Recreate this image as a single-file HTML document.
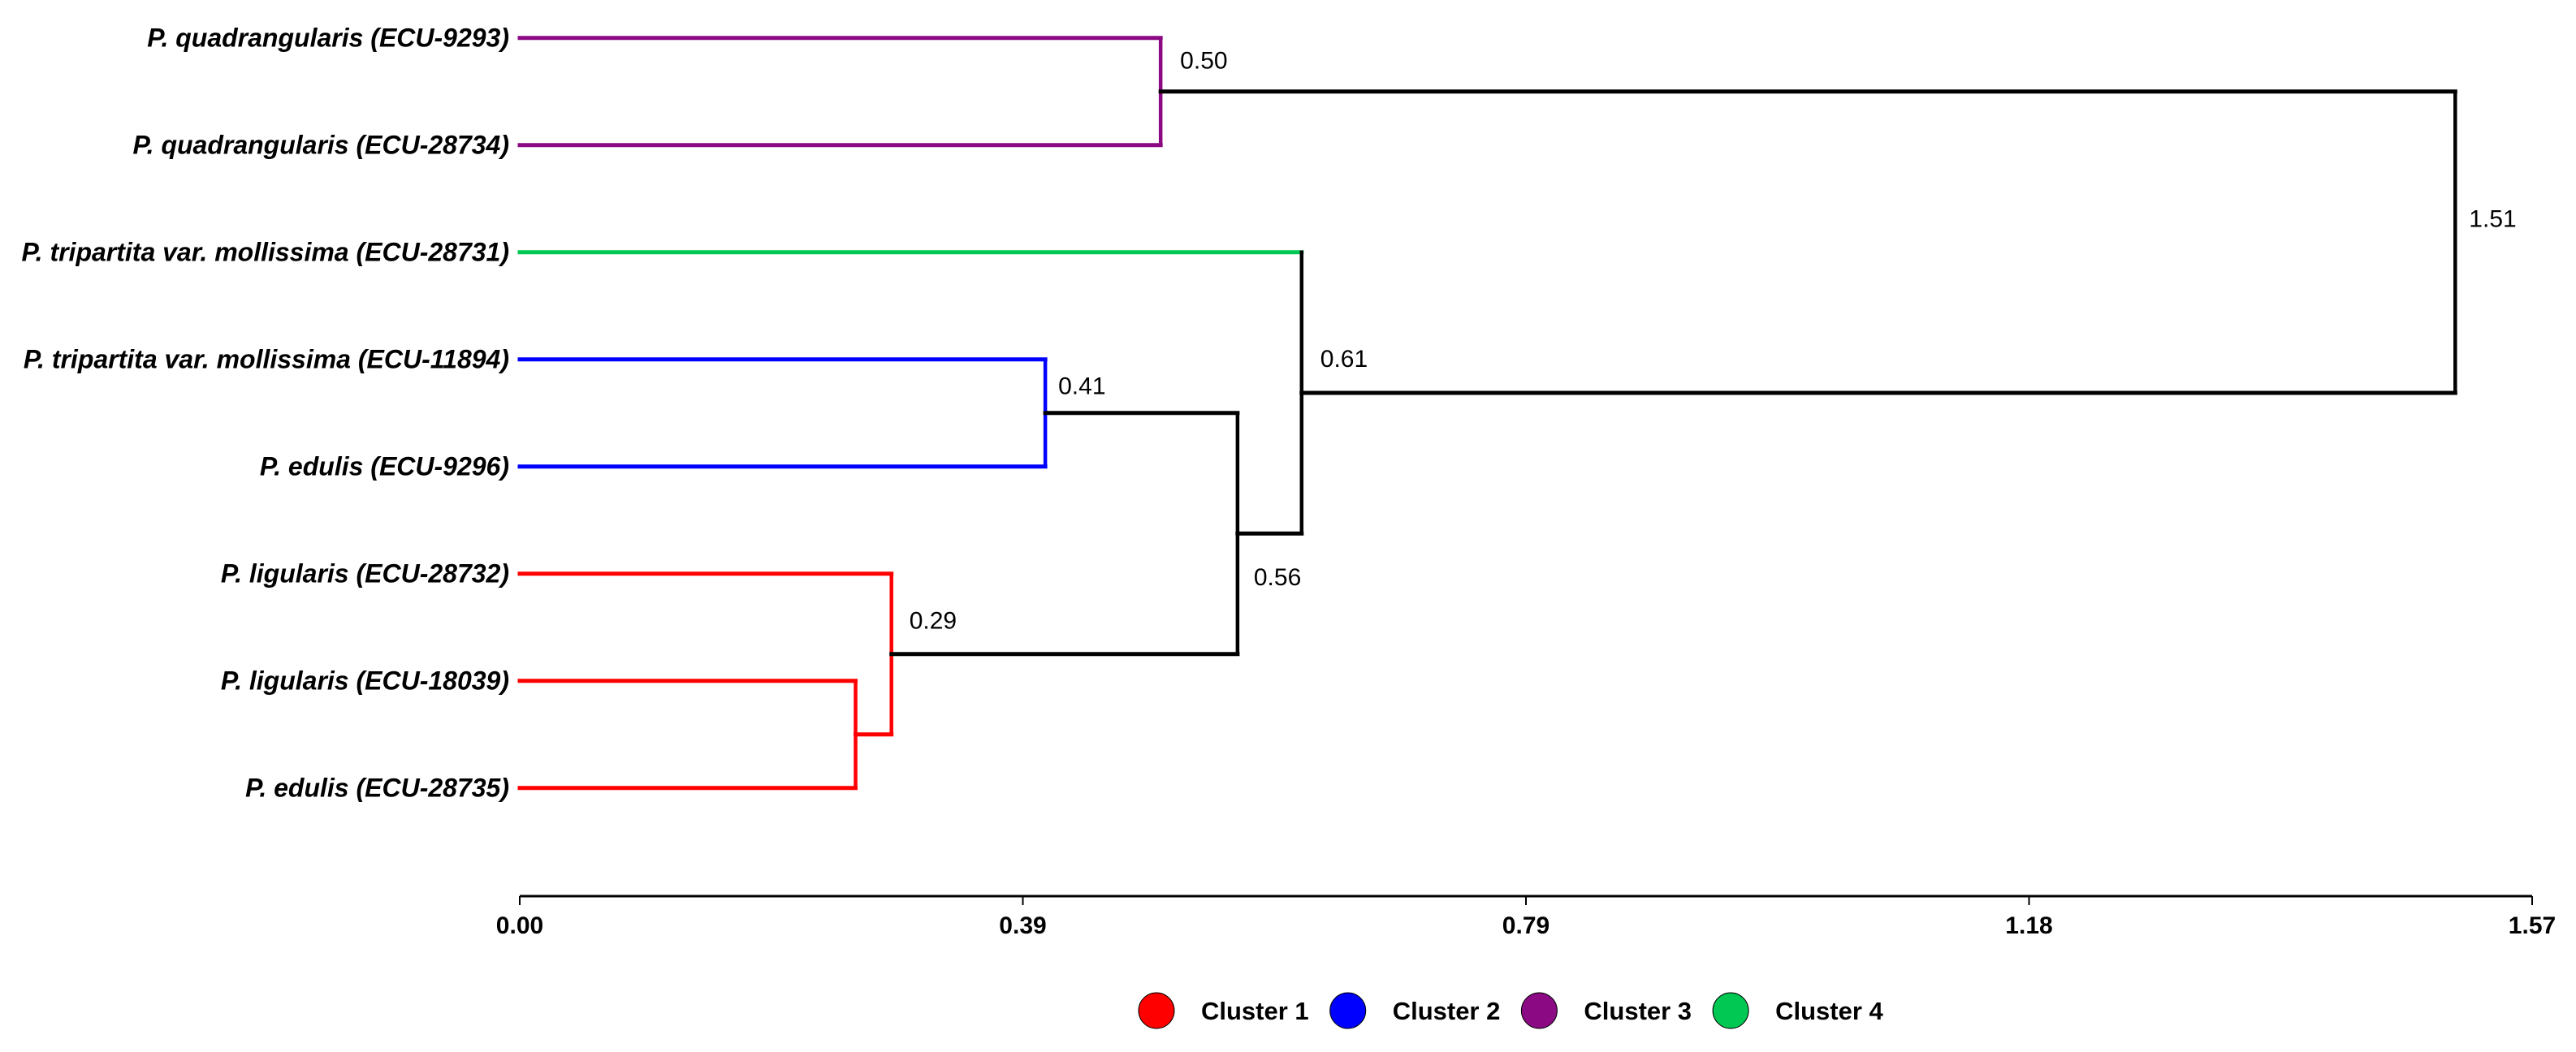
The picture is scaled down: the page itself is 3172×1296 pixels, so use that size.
<!DOCTYPE html>
<html>
<head>
<meta charset="utf-8">
<style>
html,body{margin:0;padding:0;background:#fff;}
svg{display:block;}
</style>
</head>
<body>
<svg id="chart" width="3172" height="1296" viewBox="0 0 3172 1296" xmlns="http://www.w3.org/2000/svg">
  <g id="branches"></g>
  <g id="leaf-labels"></g>
  <g id="height-labels"></g>
  <g id="axis"></g>
  <g id="legend"></g>
</svg>
<script>
// ---- data ----
const leafNames = [
  "P. quadrangularis (ECU-9293)",
  "P. quadrangularis (ECU-28734)",
  "P. tripartita var. mollissima (ECU-28731)",
  "P. tripartita var. mollissima (ECU-11894)",
  "P. edulis (ECU-9296)",
  "P. ligularis (ECU-28732)",
  "P. ligularis (ECU-18039)",
  "P. edulis (ECU-28735)"
];
const leafCluster = [3, 3, 4, 2, 2, 1, 1, 1];
const mergeLeft  = ["L6", "L5", "L3", "L0", "M2", "L2", "M3"];
const mergeRight = ["L7", "M0", "L4", "L1", "M1", "M4", "M5"];
const mergeHeight = [0.262, 0.29, 0.41, 0.50, 0.56, 0.61, 1.51];
const mergeLabel  = ["", "0.29", "0.41", "0.50", "0.56", "0.61", "1.51"];
const mergeCluster = [1, 1, 2, 3, 0, 0, 0];
const tickValues = [0, 0.3925, 0.785, 1.1775, 1.57];
const tickLabels = ["0.00", "0.39", "0.79", "1.18", "1.57"];
const legendLabels = ["Cluster 1", "Cluster 2", "Cluster 3", "Cluster 4"];
const clusterColors = ["#000000", "#ff0000", "#0000ff", "#8b0a84", "#00c853"];

// ---- layout ----
const X0 = 640, X1 = 3118, DMAX = 1.57;
const xs = d => X0 + (d / DMAX) * (X1 - X0);
const LEAF_Y0 = 46.7, LEAF_DY = 132;
const ys = i => LEAF_Y0 + i * LEAF_DY;
const labelOffsets = [[0,0],[22,-31],[16,-23],[24,-28],[20,64],[23,-32],[17,-19]];

const NS = "http://www.w3.org/2000/svg";
function mk(tag, attrs, parent){ const e=document.createElementNS(NS,tag); for(const k in attrs) e.setAttribute(k,attrs[k]); parent.appendChild(e); return e; }

const gB = document.getElementById('branches');
const gL = document.getElementById('leaf-labels');
const gH = document.getElementById('height-labels');
const gA = document.getElementById('axis');
const gG = document.getElementById('legend');

const nodeX = {}, nodeY = {};
leafNames.forEach((n,i)=>{
  nodeX["L"+i] = xs(0); nodeY["L"+i] = ys(i);
  const t = mk('text',{x:627,y:ys(i)+11,'text-anchor':'end','font-family':'"Liberation Sans", Arial, sans-serif','font-size':32,'font-weight':'bold','font-style':'italic',fill:'#000'},gL);
  t.textContent = n;
  
  
});
function branchColor(id, parentIdx){
  if(id[0]==='L') return clusterColors[leafCluster[+id.slice(1)]];
  return clusterColors[mergeCluster[parentIdx]];
}
mergeHeight.forEach((h,i)=>{
  const a = mergeLeft[i], b = mergeRight[i];
  const x = xs(h);
  const ya = nodeY[a], yb = nodeY[b];
  const col = clusterColors[mergeCluster[i]];
  [a,b].forEach(c=>{
    const ln = mk('line',{x1:nodeX[c],y1:nodeY[c],x2:x,y2:nodeY[c],stroke:branchColor(c,i),'stroke-width':5,'stroke-linecap':'square'},gB);
    
    
  });
  const v = mk('line',{x1:x,y1:ya,x2:x,y2:yb,stroke:col,'stroke-width':4.5,'stroke-linecap':'square'},gB);
  
  
  nodeX["M"+i] = x; nodeY["M"+i] = (ya+yb)/2;
  if(mergeLabel[i]){
    const o = labelOffsets[i];
    const t = mk('text',{x:x+o[0],y:(ya+yb)/2+o[1],'font-family':'"Liberation Sans", Arial, sans-serif','font-size':30,fill:'#000'},gH);
    t.textContent = mergeLabel[i];
    
    
  }
});

// axis
const AY = 1104;
const al = mk('line',{x1:X0,y1:AY,x2:X1,y2:AY,stroke:'#000','stroke-width':3},gA);


tickValues.forEach((v,i)=>{
  const x = xs(v);
  const tk = mk('line',{x1:x,y1:AY,x2:x,y2:AY+11,stroke:'#000','stroke-width':2},gA);
  
  
  const t = mk('text',{x:x,y:1150,'text-anchor':'middle','font-family':'"Liberation Sans", Arial, sans-serif','font-size':30,'font-weight':'bold',fill:'#000'},gA);
  t.textContent = tickLabels[i];
  
  
});

// legend
legendLabels.forEach((lab,i)=>{
  const cx = 1424 + i*235.7;
  const c = mk('circle',{cx:cx,cy:1245,r:22,fill:clusterColors[i+1],stroke:'#000','stroke-width':1},gG);
  
  
  const t = mk('text',{x:cx+55,y:1256,'font-family':'"Liberation Sans", Arial, sans-serif','font-size':31,'font-weight':'bold',fill:'#000'},gG);
  t.textContent = lab;
  
  
});
</script>
</body>
</html>
